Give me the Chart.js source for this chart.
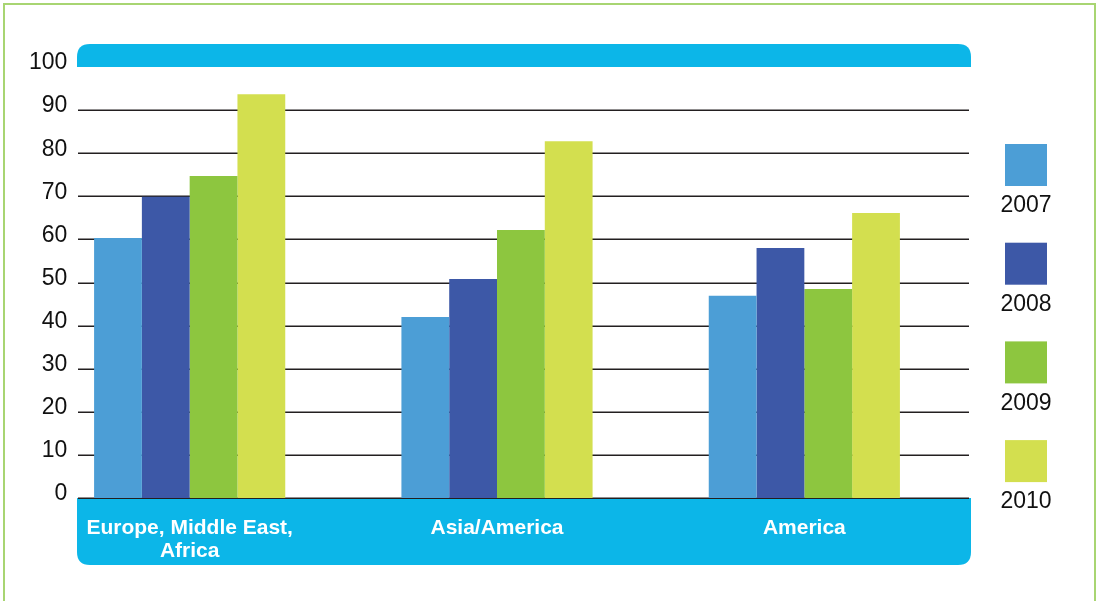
<!DOCTYPE html>
<html>
<head>
<meta charset="utf-8">
<script src="https://cdn.jsdelivr.net/npm/chart.js@4/dist/chart.umd.min.js"></script>
<style>
  html, body { margin: 0; padding: 0; background: #fff; }
  #wrap { position: relative; width: 1100px; height: 601px; }
</style>
</head>
<body>
<div id="wrap"><canvas id="regionChart" width="1100" height="601"></canvas></div>
<script>
// datos
const regiones = [["Europe, Middle East,", "Africa"], "Asia/America", "America"];
const anios = ["2007", "2008", "2009", "2010"];
const v2007 = [60.3, 42.0, 46.9];
const v2008 = [69.9, 50.8, 58.0];
const v2009 = [74.7, 62.2, 48.5];
const v2010 = [93.7, 82.8, 66.1];
const colores = ["#4c9ed6", "#3d58a7", "#8dc63f", "#d3df4f"];
const cian = "#0cb6e8";
const fuente = "'Liberation Sans', Arial, sans-serif";

function roundRect(ctx, x, y, w, h, r) {
    ctx.beginPath();
    ctx.moveTo(x + r[0], y);
    ctx.lineTo(x + w - r[1], y);
    ctx.quadraticCurveTo(x + w, y, x + w, y + r[1]);
    ctx.lineTo(x + w, y + h - r[2]);
    ctx.quadraticCurveTo(x + w, y + h, x + w - r[2], y + h);
    ctx.lineTo(x + r[3], y + h);
    ctx.quadraticCurveTo(x, y + h, x, y + h - r[3]);
    ctx.lineTo(x, y + r[0]);
    ctx.quadraticCurveTo(x, y, x + r[0], y);
    ctx.closePath();
}

// fondo: marco, bandas y líneas de la cuadrícula
const decoracion = {
    id: "decoracion",
    beforeDraw(chart) {
        const ctx = chart.ctx, y = chart.scales.y;
        const x0 = 77, x1 = 971;
        ctx.save();
        ctx.strokeStyle = "#a8d572";
        ctx.lineWidth = 2;
        ctx.strokeRect(4, 4, 1091, 610);
        ctx.fillStyle = cian;
        roundRect(ctx, x0, 44, x1 - x0, y.getPixelForValue(100) - 44, [13, 13, 0, 0]);
        ctx.fill();
        const base = y.getPixelForValue(0);
        roundRect(ctx, x0, base, x1 - x0, 565 - base, [0, 0, 13, 13]);
        ctx.fill();
        ctx.strokeStyle = "#231f20";
        ctx.lineWidth = 1.4;
        y.ticks.forEach(t => {
            if (t.value >= 100) return;
            const py = Math.round(y.getPixelForValue(t.value)) + 0.3;
            ctx.beginPath();
            ctx.moveTo(x0 + 1, py);
            ctx.lineTo(x1 - 2, py);
            ctx.stroke();
        });
        ctx.restore();
    },
    afterDraw(chart) {
        // leyenda a la derecha
        const ctx = chart.ctx;
        ctx.save();
        ctx.font = "23px " + fuente;
        ctx.textAlign = "center";
        ctx.textBaseline = "middle";
        chart.data.datasets.forEach((ds, i) => {
            const top = 144 + i * 98.7;
            ctx.fillStyle = ds.backgroundColor;
            ctx.fillRect(1005, top, 42, 42);
            ctx.fillStyle = "#111";
            ctx.fillText(ds.label, 1026, top + 62);
        });
        ctx.restore();
    }
};

new Chart(document.getElementById("regionChart").getContext("2d"), {
    type: "bar",
    data: {
        labels: regiones,
        datasets: [
            { label: anios[0], data: v2007, backgroundColor: colores[0] },
            { label: anios[1], data: v2008, backgroundColor: colores[1] },
            { label: anios[2], data: v2009, backgroundColor: colores[2] },
            { label: anios[3], data: v2010, backgroundColor: colores[3] }
        ]
    },
    options: {
        responsive: false,
        animation: false,
        layout: { padding: { top: 67, right: 142, bottom: 0, left: 0 } },
        datasets: { bar: { barPercentage: 1, categoryPercentage: 0.622, borderWidth: 0 } },
        plugins: { legend: { display: false }, tooltip: { enabled: false } },
        scales: {
            x: {
                grid: { display: false, drawTicks: false },
                border: { display: false },
                ticks: { color: "#fff", padding: 18, font: { family: fuente, size: 21, weight: "bold", lineHeight: 1.12 } },
                afterFit(s) { s.height = 103; }
            },
            y: {
                min: 0, max: 100,
                grid: { display: false, drawTicks: false },
                border: { display: false },
                ticks: { stepSize: 10, mirror: true, crossAlign: "far", padding: -7, labelOffset: -4, color: "#111", font: { family: fuente, size: 23 } },
                afterFit(s) { s.width = 36; }
            }
        }
    },
    plugins: [decoracion]
});
</script>
</body>
</html>
